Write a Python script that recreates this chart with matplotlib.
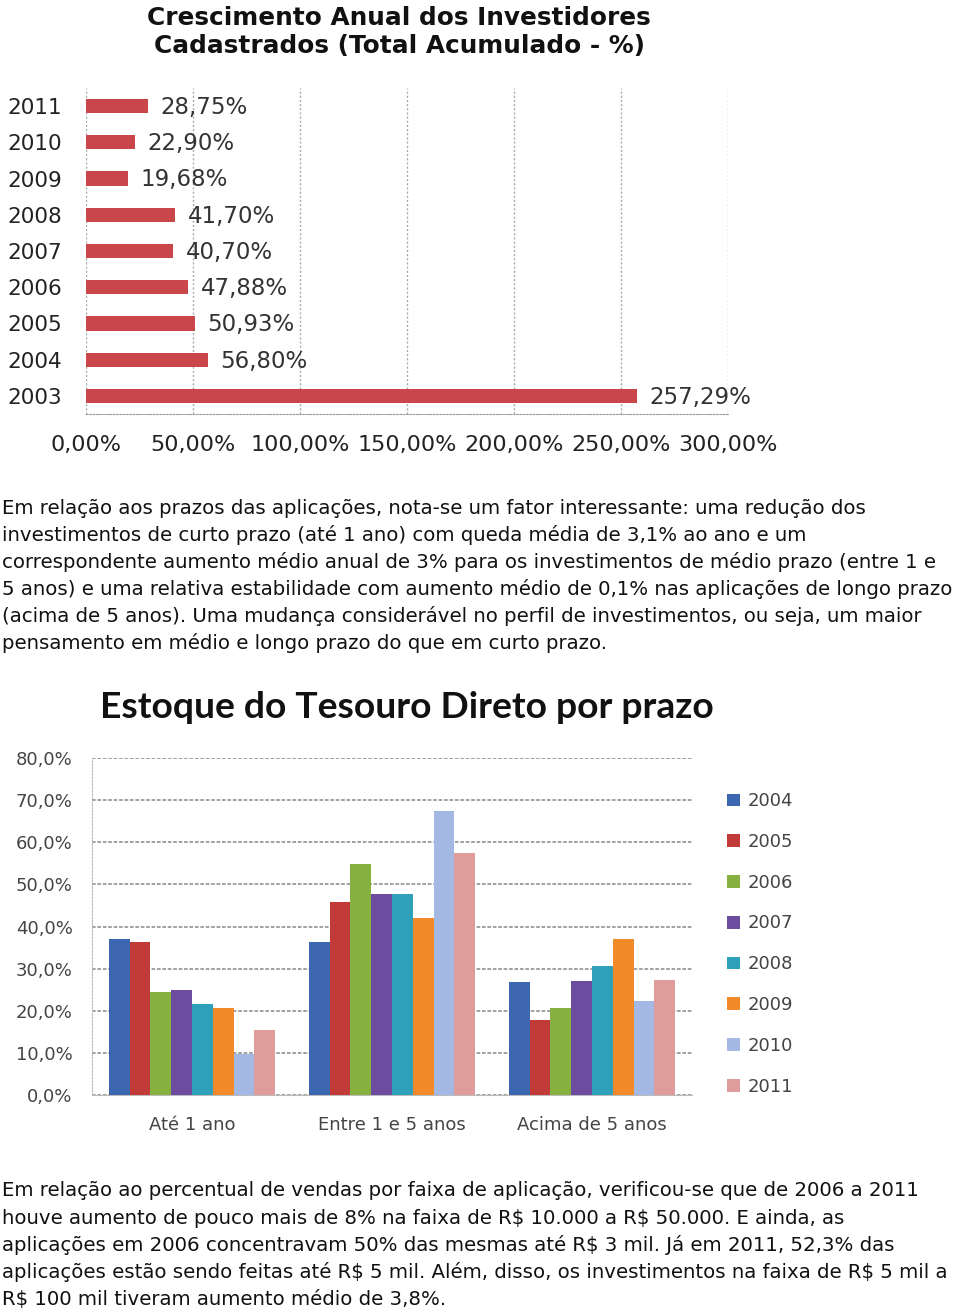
import matplotlib
matplotlib.use("Agg")
import matplotlib.pyplot as plt
import numpy as np

# ---------------- data ----------------
years1 = ["2003", "2004", "2005", "2006", "2007", "2008", "2009", "2010", "2011"]
growth = [257.29, 56.80, 50.93, 47.88, 40.70, 41.70, 19.68, 22.90, 28.75]
growth_labels = ["257,29%", "56,80%", "50,93%", "47,88%", "40,70%", "41,70%",
                 "19,68%", "22,90%", "28,75%"]
xticks1 = [0, 50, 100, 150, 200, 250, 300]
xticklabels1 = ["0,00%", "50,00%", "100,00%", "150,00%", "200,00%", "250,00%", "300,00%"]

categories2 = ["Até 1 ano", "Entre 1 e 5 anos", "Acima de 5 anos"]
series_years = ["2004", "2005", "2006", "2007", "2008", "2009", "2010", "2011"]
s2004 = [37.1, 36.3, 26.8]
s2005 = [36.3, 45.9, 17.9]
s2006 = [24.4, 54.8, 20.6]
s2007 = [24.9, 47.8, 27.1]
s2008 = [21.5, 47.8, 30.6]
s2009 = [20.7, 41.9, 37.0]
s2010 = [9.8, 67.5, 22.3]
s2011 = [15.4, 57.5, 27.3]
series2 = [s2004, s2005, s2006, s2007, s2008, s2009, s2010, s2011]
yticks2 = [0, 10, 20, 30, 40, 50, 60, 70, 80]
yticklabels2 = ["0,0%", "10,0%", "20,0%", "30,0%", "40,0%", "50,0%", "60,0%", "70,0%", "80,0%"]

para1 = [
    "Em relação aos prazos das aplicações, nota-se um fator interessante: uma redução dos",
    "investimentos de curto prazo (até 1 ano) com queda média de 3,1% ao ano e um",
    "correspondente aumento médio anual de 3% para os investimentos de médio prazo (entre 1 e",
    "5 anos) e uma relativa estabilidade com aumento médio de 0,1% nas aplicações de longo prazo",
    "(acima de 5 anos). Uma mudança considerável no perfil de investimentos, ou seja, um maior",
    "pensamento em médio e longo prazo do que em curto prazo.",
]
para2 = [
    "Em relação ao percentual de vendas por faixa de aplicação, verificou-se que de 2006 a 2011",
    "houve aumento de pouco mais de 8% na faixa de R$ 10.000 a R$ 50.000. E ainda, as",
    "aplicações em 2006 concentravam 50% das mesmas até R$ 3 mil. Já em 2011, 52,3% das",
    "aplicações estão sendo feitas até R$ 5 mil. Além, disso, os investimentos na faixa de R$ 5 mil a",
    "R$ 100 mil tiveram aumento médio de 3,8%.",
]

colors2 = ["#3c66b0", "#c23a37", "#86b040", "#6b4c9e", "#2ea0b9", "#f28a2a", "#a3b8e2", "#e09c9b"]
bar_red = "#c9464a"

# ---------------- layout ----------------
W, H = 960, 1312
fig = plt.figure(figsize=(W / 100, H / 100), dpi=100)
fig.patch.set_facecolor("white")


def box(x0, y0, x1, y1):
    return [x0 / W, 1 - y1 / H, (x1 - x0) / W, (y1 - y0) / H]


# ---- chart 1 ----
ax1 = fig.add_axes(box(86, 88, 728, 414))
ypos = np.arange(len(years1))
ax1.barh(ypos, growth, height=0.39, color=bar_red, zorder=3)
ax1.set_xlim(0, 300)
ax1.set_ylim(-0.5, len(years1) - 0.5)
ax1.set_xticks(xticks1)
ax1.set_xticklabels(xticklabels1, fontsize=16, color="#222222")
ax1.set_yticks(ypos)
ax1.set_yticklabels(years1, fontsize=15.5, color="#222222")
ax1.tick_params(axis="x", length=0, pad=15)
ax1.tick_params(axis="y", length=0, pad=17)
for s in ["top", "right", "left"]:
    ax1.spines[s].set_visible(False)
ax1.spines["bottom"].set_linestyle((0, (1.5, 1.5)))
ax1.spines["bottom"].set_color("#999999")
ax1.grid(axis="x", color="#aaaaaa", linestyle=(0, (1.5, 1.5)), linewidth=1, zorder=0)
ax1.set_axisbelow(True)
for yp, v, lab in zip(ypos, growth, growth_labels):
    ax1.annotate(lab, (v, yp), xytext=(9, -1), textcoords="offset points",
                 va="center", ha="left", fontsize=16.5, color="#333333")
fig.text(399 / W, 1 - 32 / H,
         "Crescimento Anual dos Investidores\nCadastrados (Total Acumulado - %)",
         ha="center", va="center", fontsize=17.8, fontweight="bold", linespacing=1.25,
         color="#111111")

# ---- paragraphs ----
def para(lines, y0):
    for i, line in enumerate(lines):
        fig.text(2 / W, 1 - (y0 + 27 * i) / H, line, ha="left", va="center",
                 fontsize=14.2, family="DejaVu Sans", color="#111111",
                 parse_math=False)

para(para1, 508)
para(para2, 1191)

# ---- chart 2 ----
ax2 = fig.add_axes(box(92, 758, 692, 1095))
n = len(series2)
bw = 0.104
xg = np.arange(len(categories2))
for i, (vals, c, lab) in enumerate(zip(series2, colors2, series_years)):
    ax2.bar(xg + (i - (n - 1) / 2) * bw, vals, width=bw, color=c, label=lab, zorder=3)
ax2.set_xlim(-0.5, 2.5)
ax2.set_ylim(0, 80)
ax2.set_yticks(yticks2)
ax2.set_yticklabels(yticklabels2, fontsize=13, color="#444444")
ax2.set_xticks(xg)
ax2.set_xticklabels(categories2, fontsize=13, color="#444444")
ax2.tick_params(axis="y", length=0, pad=14)
ax2.tick_params(axis="x", length=0, pad=15)
for s in ["top", "right"]:
    ax2.spines[s].set_visible(False)
ax2.spines["left"].set_linestyle((0, (1.5, 1.5)))
ax2.spines["left"].set_color("#bbbbbb")
ax2.spines["bottom"].set_color("#bbbbbb")
ax2.grid(axis="y", color="#9a9a9a", linestyle=(0, (2, 1)), linewidth=1.3, zorder=0)
ax2.set_axisbelow(True)
leg = ax2.legend(loc="upper left", bbox_to_anchor=(711 / W, 1 - 776 / H),
                 bbox_transform=fig.transFigure, frameon=False, fontsize=13,
                 handlelength=0.7, handleheight=0.7, handletextpad=0.45,
                 labelspacing=1.26, labelcolor="#444444")
fig.text(407 / W, 1 - 708 / H, "Estoque do Tesouro Direto por prazo",
         ha="center", va="center", fontsize=26.8, fontweight="bold",
         family="Lato", color="#111111")

fig.savefig("out.png", dpi=100, facecolor="white")
